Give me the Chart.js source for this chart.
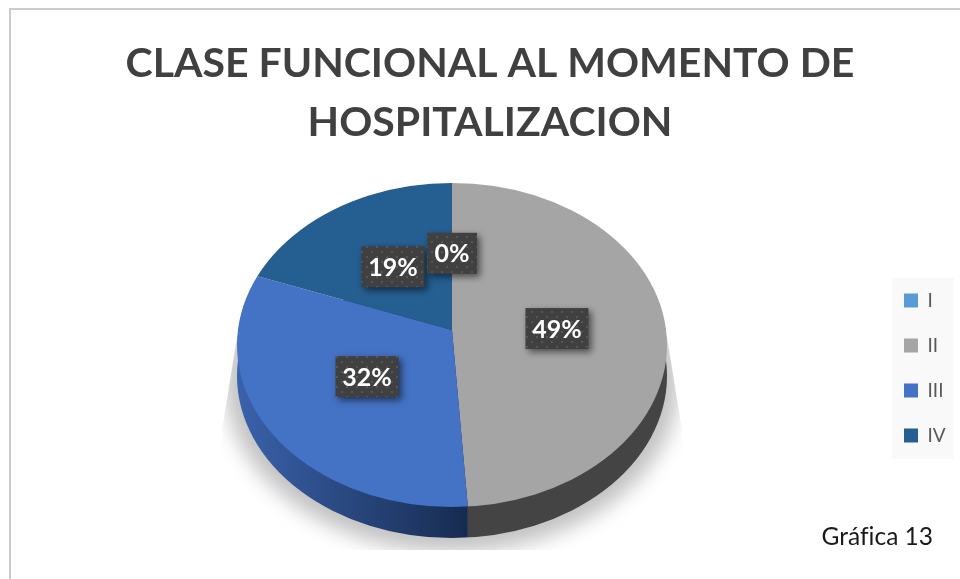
<!DOCTYPE html>
<html>
<head>
    <meta charset="utf-8">
    <script src="https://cdn.jsdelivr.net/npm/chart.js"></script>
    <title>Clase funcional</title>
    <style>
      * {
        font-family: Lato, Arial, sans-serif;
        box-sizing: border-box;
        font-variant-ligatures: none;
      }

      html, body {
        margin: 0;
        background: #fff;
      }

      .box {
        position: absolute;
        left: 0;
        top: 0;
        width: 960px;
        height: 579px;
      }

      .frame {
        position: absolute;
        left: 9px;
        top: 8px;
        width: 951px;
        height: 571px;
        border: 2px solid #cccccc;
        border-right: none;
        border-bottom: none;
      }

      .note {
        position: absolute;
        right: 27px;
        top: 521px;
        font-size: 24.5px;
        color: #1a1a1a;
      }
    </style>
</head>
<body>
    <div class="box">
      <div class="frame"></div>
      <canvas id="canvasChart" width="960" height="579"></canvas>
      <div class="note">Gráfica 13</div>
    </div>
    <script>
      const categories = ['I', 'II', 'III', 'IV'];
      const percent_values = [0, 49, 32, 19];
      const slice_colors = ['#5b9bd5', '#a5a5a5', '#4472c4', '#255e91'];
      const title_lines = ['CLASE FUNCIONAL AL MOMENTO DE', 'HOSPITALIZACION'];

      // look of the tilted pie on the page
      const apex = {x: 452, y: 330};
      const rim = {x: 452, y: 345, rx: 215, ry: 162};
      const depth = 31;
      const tilt = 0.70;
      const label_radius = 105;
      const label_tilt = 0.74;

      function rim_path(ctx, dy) {
        ctx.beginPath();
        ctx.ellipse(rim.x, rim.y + dy, rim.rx, rim.ry, 0, 0, Math.PI * 2);
      }

      function dot_pattern(ctx) {
        const tile = document.createElement('canvas');
        tile.width = 10;
        tile.height = 10;
        const t = tile.getContext('2d');
        t.fillStyle = '#404040';
        t.fillRect(0, 0, 10, 10);
        t.fillStyle = '#565656';
        t.fillRect(1, 1, 2, 2);
        t.fillRect(6, 6, 2, 2);
        return ctx.createPattern(tile, 'repeat');
      }

      const tiltedPie = {
        id: 'tiltedPie',
        afterLayout(chart) {
          // legend sits in its own panel, low on the right
          const lg = chart.legend;
          lg.left = 904 - lg.options.labels.padding;
          lg.top = 265;
          lg.bottom = 579;
        },
        beforeDraw(chart) {
          chart.ctx.fillStyle = '#f9f9f9';
          chart.ctx.fillRect(892, 278, 62, 181);
        },
        beforeDatasetsDraw(chart) {
          const ctx = chart.ctx;
          const arcs = chart.getDatasetMeta(0).data;

          // soft floor shadow, flaring out under the pie
          ctx.save();
          ctx.beginPath();
          ctx.moveTo(237, 337);
          ctx.lineTo(222, 430);
          ctx.lineTo(222, 550);
          ctx.lineTo(682, 550);
          ctx.lineTo(682, 430);
          ctx.lineTo(667, 337);
          ctx.closePath();
          ctx.clip();
          ctx.filter = 'blur(10px)';
          ctx.fillStyle = '#c2c2c2';
          ctx.beginPath();
          ctx.ellipse(rim.x, rim.y + depth + 6, rim.rx + 12, rim.ry + 8, 0, 0, Math.PI * 2);
          ctx.fill();
          ctx.restore();

          // side wall, split where slice II ends
          const a = arcs[1].endAngle + Math.PI / 2;
          const split_x = apex.x + Math.sin(a) * (rim.y + rim.ry - apex.y) / (tilt * Math.abs(Math.cos(a)));
          const wall = ctx.createLinearGradient(rim.x - rim.rx, 0, split_x, 0);
          wall.addColorStop(0, '#3a62ab');
          wall.addColorStop(1, '#172b50');
          ctx.save();
          rim_path(ctx, depth);
          ctx.clip();
          ctx.fillStyle = wall;
          ctx.fillRect(rim.x - rim.rx - 2, 300, split_x - rim.x + rim.rx + 2, 300);
          ctx.fillStyle = '#444444';
          ctx.fillRect(split_x, 300, rim.x + rim.rx - split_x + 2, 300);
          ctx.restore();

          // library arcs, tilted, cut to the rim
          const arc = arcs[0];
          const k = 330 / arc.outerRadius;
          ctx.save();
          rim_path(ctx, 0);
          ctx.clip();
          ctx.translate(apex.x, apex.y);
          ctx.scale(k, k * tilt);
          ctx.translate(-arc.x, -arc.y);
        },
        afterDatasetsDraw(chart) {
          const ctx = chart.ctx;
          ctx.restore();

          const arcs = chart.getDatasetMeta(0).data;
          const pattern = dot_pattern(ctx);
          // 0% sits on top of 19%, so draw it last
          [1, 2, 3, 0].forEach(i => {
            const mid = (arcs[i].startAngle + arcs[i].endAngle) / 2;
            const cx = apex.x + Math.cos(mid) * label_radius;
            const cy = apex.y + Math.sin(mid) * label_radius * label_tilt + 1;
            const w = percent_values[i] < 10 ? 50 : 63;
            const h = 41;
            ctx.save();
            ctx.shadowColor = 'rgba(0,0,0,0.55)';
            ctx.shadowBlur = 7;
            ctx.shadowOffsetX = 3;
            ctx.shadowOffsetY = 3;
            ctx.fillStyle = pattern;
            ctx.fillRect(cx - w / 2, cy - h / 2, w, h);
            ctx.restore();
            ctx.fillStyle = '#fff';
            ctx.font = 'bold 25px Lato';
            ctx.textAlign = 'center';
            ctx.textBaseline = 'middle';
            ctx.fillText(percent_values[i] + '%', cx, cy + 1);
          });
        }
      };

      const ctx = document.getElementById('canvasChart').getContext('2d');

      const myChart = new Chart(ctx, {
        type: 'pie',
        data: {
          labels: categories,
          datasets: [{
            data: percent_values,
            backgroundColor: slice_colors,
            borderWidth: 0
          }]
        },
        options: {
          responsive: false,
          animation: false,
          layout: {padding: {left: 20, top: 10}},
          plugins: {
            title: {
              display: true,
              text: title_lines,
              color: '#404040',
              font: {size: 41, weight: 'bold', family: 'Lato', lineHeight: 1.42},
              padding: {top: 25, bottom: 10}
            },
            legend: {
              position: 'right',
              align: 'start',
              labels: {
                boxWidth: 14,
                boxHeight: 14,
                padding: 26,
                color: '#595959',
                font: {size: 19, family: 'Lato'}
              }
            },
            tooltip: {enabled: false}
          }
        },
        plugins: [tiltedPie]
      });
    </script>
</body>
</html>
